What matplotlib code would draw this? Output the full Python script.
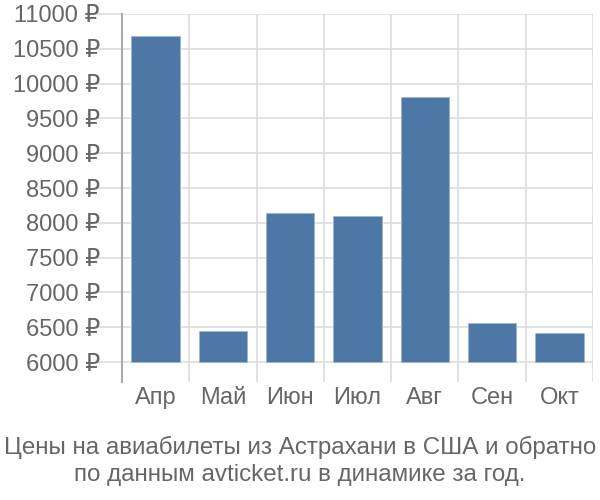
import matplotlib.pyplot as plt
from matplotlib.ticker import FuncFormatter

months = ['Апр', 'Май', 'Июн', 'Июл', 'Авг', 'Сен', 'Окт']
prices = [10684, 6451, 8134, 8091, 9811, 6561, 6423]
yticks = [6000, 6500, 7000, 7500, 8000, 8500, 9000, 9500, 10000, 10500, 11000]
caption = 'Цены на авиабилеты из Астрахани в США и обратно\nпо данным avticket.ru в динамике за год.'

plt.rcParams['font.family'] = ['Liberation Sans', 'DejaVu Sans']
textColor = '#666666'
gridColor = '#dddddd'

fig = plt.figure(figsize=(6, 5), dpi=100)
ax = fig.add_axes([0.2033, 0.2366, 0.785, 0.7354])

x = list(range(len(months)))
ax.bar(x, [p - 6000 for p in prices], bottom=6000, width=0.72,
       color='#4d78a6', edgecolor='#9fb6d2', linewidth=0.6, zorder=3)

ax.set_xlim(-0.5, len(months) - 0.5)
ax.set_ylim(5717, 11000)
ax.set_yticks(yticks)
ax.yaxis.set_major_formatter(FuncFormatter(lambda v, p: '%d ₽' % v))
ax.set_xticks(x)
ax.set_xticklabels(months)

# grid: horizontal at ticks, vertical at category boundaries
for v in yticks:
    ax.axhline(v, color=gridColor, linewidth=1.2, zorder=1)
for b in range(1, len(months) + 1):
    ax.axvline(b - 0.5, color=gridColor, linewidth=1.2, zorder=1)

for s in ['top', 'right', 'bottom']:
    ax.spines[s].set_visible(False)
ax.spines['left'].set_color('#aaaaaa')
ax.spines['left'].set_linewidth(1.5)

ax.tick_params(axis='y', length=18, color=gridColor, width=1.2, pad=-2,
               labelsize=17, labelcolor=textColor)
ax.tick_params(axis='x', length=0, pad=4, labelsize=17, labelcolor=textColor)

fig.text(0.5, 0.078, caption, ha='center', va='center', fontsize=17.4,
         color=textColor, linespacing=1.32)

fig.savefig('out.png', dpi=100)
